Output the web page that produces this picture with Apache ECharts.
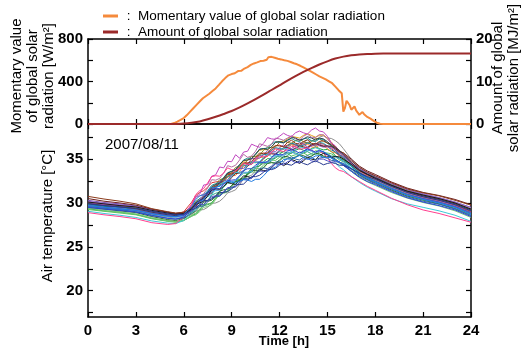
<!DOCTYPE html>
<html>
<head>
<meta charset="utf-8">
<script src="https://cdn.jsdelivr.net/npm/echarts@6/dist/echarts.min.js"></script>
<style>
  html, body { margin: 0; padding: 0; background: #fff; }
  #chart { width: 521px; height: 349px; }
</style>
</head>
<body>
<div id="chart"></div>
<script>
// Global solar radiation, 2007/08/11: momentary value [W/m2] as [hour, value]
const momentary = [
  [0,0],[5.0,0],[5.1,0],[5.2,1],[5.3,4],[5.4,9],[5.5,15],[5.6,22],[5.7,30],[5.8,38],[5.9,46],
  [6.0,56],[6.1,70],[6.2,84],[6.3,100],[6.4,116],[6.5,132],[6.6,148],[6.7,163],[6.8,180],[6.9,196],
  [7.0,212],[7.1,226],[7.2,242],[7.3,250],[7.4,264],[7.5,275],[7.6,285],[7.7,296],[7.8,310],[7.9,322],
  [8.0,335],[8.1,350],[8.2,368],[8.3,385],[8.4,402],[8.5,418],[8.6,432],[8.7,448],[8.8,458],[8.9,468],
  [9.0,470],[9.1,482],[9.2,478],[9.3,492],[9.4,498],[9.5,506],[9.6,500],[9.7,516],[9.8,522],[9.9,530],
  [10.0,536],[10.1,548],[10.2,556],[10.3,560],[10.4,570],[10.5,566],[10.6,580],[10.7,588],[10.8,592],[10.9,600],
  [11.0,596],[11.1,612],[11.2,605],[11.3,628],[11.4,610],[11.5,632],[11.6,618],[11.7,624],[11.8,620],[11.9,614],
  [12.0,612],[12.1,608],[12.2,604],[12.3,600],[12.4,602],[12.5,594],[12.6,590],[12.7,584],[12.8,580],[12.9,572],
  [13.0,568],[13.1,562],[13.2,556],[13.3,548],[13.4,540],[13.5,532],[13.6,524],[13.7,516],[13.8,508],[13.9,500],
  [14.0,492],[14.1,484],[14.2,474],[14.3,466],[14.4,458],[14.5,448],[14.6,442],[14.7,434],[14.8,426],[14.9,420],
  [15.0,412],[15.1,402],[15.2,396],[15.3,384],[15.4,370],[15.5,352],[15.6,336],[15.7,318],[15.8,300],[15.9,290],
  [16.0,116],[16.1,150],[16.2,218],[16.3,198],[16.4,176],[16.5,134],[16.6,150],[16.7,165],[16.8,128],[16.9,108],
  [17.0,86],[17.1,104],[17.2,112],[17.3,92],[17.4,76],[17.5,66],[17.6,58],[17.7,50],[17.8,40],[17.9,30],
  [18.0,20],[18.1,12],[18.2,6],[18.3,2],[18.4,0],[18.5,0],[24,0]
];

// Accumulated global solar radiation [MJ/m2] as [hour, value]
const amount = [
  [0,0],[5,0],[5.5,0.02],[6,0.1],[6.5,0.3],[7,0.6],[7.5,1.1],[8,1.7],[8.5,2.35],[9,3.05],
  [9.5,3.9],[10,4.85],[10.5,5.85],[11,6.9],[11.5,8.0],[12,9.1],[12.5,10.2],[13,11.25],[13.5,12.25],
  [14,13.15],[14.5,14.0],[15,14.75],[15.5,15.4],[16,15.85],[16.5,16.15],[17,16.35],[17.5,16.48],
  [18,16.55],[18.5,16.57],[24,16.57]
];

// Air temperature [°C] per sensor: half-hourly records (tempHours) and
// the extra quarter-hour records taken during the day (midHours)
const tempHours = [0,1,2,3,4,5,5.5,6,6.5,7,7.5,8,8.5,9,9.5,10,10.5,11,11.5,12,12.5,13,13.5,14,14.5,15,15.5,16,16.5,17,17.5,18,19,20,21,22,23,24];
const midHours = [6.75,7.25,7.75,8.25,8.75,9.25,9.75,10.25,10.75,11.25,11.75,12.25,12.75,13.25,13.75,14.25,14.75,15.25,15.75];

const sensor01 = [30.75,30.45,30.2,29.9,29.35,29.0,28.85,28.95,29.5,30.2,31.1,31.9,32.6,33.3,34.0,34.5,35.2,35.6,36.2,36.5,36.9,36.8,37.0,36.8,37.0,36.8,36.4,35.7,34.8,34.05,33.5,33.1,32.3,31.6,31.15,30.8,30.3,29.75];
const sensor01m = [30.05,30.45,31.7,32.15,33.25,33.45,34.55,34.75,35.7,35.7,36.55,36.4,37.15,36.7,37.2,36.7,37.1,36.7,35.95];
const sensor02 = [28.9,28.65,28.45,28.2,27.75,27.55,27.65,28.4,29.9,31.4,32.3,33.1,33.4,33.8,34.0,34.4,35.0,35.3,35.8,36.0,36.1,36.4,36.2,36.0,35.9,35.2,34.0,33.6,33.0,32.45,31.9,31.45,30.55,29.8,29.2,28.8,28.3,27.8];
const sensor02m = [30.95,31.65,33.0,33.05,34.0,33.7,34.5,34.4,35.35,35.35,36.2,35.85,36.45,36.1,36.3,35.75,35.65,34.5,33.7];
const sensor03 = [29.05,28.8,28.6,28.35,27.95,27.7,27.65,28.0,28.9,29.9,30.7,31.6,32.3,33.0,33.4,34.3,34.6,35.2,35.3,35.9,36.2,36.1,36.3,36.1,36.1,35.6,34.6,33.8,33.0,32.35,31.8,31.35,30.5,29.9,29.5,29.1,28.6,27.9];
const sensor03m = [29.2,30.5,30.95,32.15,32.55,33.5,33.65,34.65,34.7,35.55,35.4,36.25,35.85,36.4,35.9,36.3,35.65,35.2,34.1];
const sensor04 = [30.0,29.8,29.6,29.35,28.95,28.7,28.55,28.8,29.8,31.0,32.1,33.2,34.0,34.7,35.1,35.9,36.5,36.8,37.3,37.6,37.7,38.0,38.0,38.3,38.2,37.6,36.5,35.5,34.5,33.8,33.25,32.8,32.0,31.3,30.8,30.4,29.85,29.2];
const sensor04m = [30.7,32.05,33.05,34.1,34.75,35.5,35.8,36.7,36.35,37.45,37.25,37.95,37.55,38.2,37.85,38.55,38.1,36.85,35.9];
const sensor05 = [29.7,29.5,29.3,29.15,28.75,28.5,28.45,28.7,29.6,30.8,31.3,31.8,32.2,32.4,32.5,32.6,32.7,33.1,33.9,34.5,35.0,35.2,35.2,35.1,35.4,35.2,34.9,34.5,33.9,33.3,32.8,32.4,31.65,30.9,30.4,30.0,29.5,28.7];
const sensor05m = [30.4,30.95,31.75,31.9,32.5,32.25,32.65,32.45,32.7,33.6,34.1,34.95,35.0,35.4,34.95,35.35,35.2,35.15,34.6];
const sensor06 = [29.9,29.7,29.55,29.4,29.05,28.75,28.65,28.7,29.2,29.8,30.3,30.8,31.2,31.6,32.1,32.6,33.0,33.5,33.8,34.3,34.4,34.6,34.5,34.6,34.6,34.5,34.5,34.3,33.9,33.4,33.0,32.7,31.9,31.2,30.7,30.3,29.8,29.1];
const sensor06m = [29.4,30.25,30.45,31.2,31.3,32.05,32.15,33.0,33.15,33.85,33.95,34.55,34.3,34.75,34.35,34.8,34.35,34.6,34.3];
const sensor07 = [30.1,29.9,29.7,29.55,29.15,28.85,28.7,28.8,29.3,30.0,30.8,31.6,31.9,32.2,32.6,33.0,33.3,33.7,34.0,34.6,34.5,34.8,34.8,35.0,35.4,35.5,35.3,35.0,34.4,33.7,33.25,32.8,32.0,31.35,30.9,30.5,30.0,29.3];
const sensor07m = [29.85,30.2,31.5,31.55,32.35,32.1,33.1,32.85,33.8,33.65,34.5,34.25,34.95,34.5,35.2,34.9,35.65,35.2,35.25];
const sensor08 = [29.6,29.4,29.2,29.05,28.65,28.4,28.25,28.3,28.7,29.2,29.5,30.0,30.6,31.3,32.1,33.0,33.7,34.5,35.1,35.8,36.3,36.6,36.9,37.1,37.5,37.4,37.1,36.2,35.0,34.1,33.5,33.0,32.1,31.4,30.9,30.5,29.95,29.2];
const sensor08m = [29.05,29.25,29.95,30.2,31.15,31.5,32.75,33.15,34.3,34.6,35.65,35.85,36.65,36.55,37.2,37.1,37.65,37.35,36.75];
const sensor09 = [29.9,29.7,29.5,29.35,28.95,28.65,28.55,28.6,29.2,30.2,31.1,32.0,32.7,33.4,34.2,34.9,35.5,36.1,36.4,37.0,37.3,37.5,37.7,37.7,37.7,37.4,36.3,35.4,34.5,33.7,33.15,32.7,31.9,31.2,30.7,30.3,29.8,29.0];
const sensor09m = [29.8,30.45,31.75,32.15,33.25,33.6,34.75,35.0,36.0,36.05,36.9,36.95,37.6,37.4,37.9,37.5,37.75,36.95,35.75];
const sensor10 = [29.35,29.1,28.95,28.7,28.25,27.95,27.85,28.0,28.5,29.2,29.8,30.6,31.2,31.9,32.7,33.4,34.1,34.7,35.0,35.6,35.7,36.0,36.0,36.2,36.2,36.1,35.4,34.9,34.2,33.4,32.9,32.5,31.8,31.1,30.5,30.1,29.6,28.9];
const sensor10m = [28.75,29.7,30.0,31.1,31.35,32.5,32.85,33.95,34.2,35.05,35.1,35.85,35.65,36.2,35.9,36.4,36.05,35.85,35.05];
const sensor11 = [29.8,29.6,29.45,29.3,28.9,28.6,28.5,28.6,29.4,30.5,31.4,32.2,32.9,33.6,34.3,35.1,35.5,36.2,36.7,36.9,37.2,37.1,37.3,37.1,37.3,36.8,36.0,35.2,34.3,33.5,33.0,32.6,31.8,31.05,30.5,30.1,29.6,28.9];
const sensor11m = [30.15,30.75,32.0,32.35,33.45,33.75,34.9,35.1,36.15,36.25,37.0,36.85,37.35,37.0,37.4,37.0,37.25,36.5,35.5];
const sensor12 = [30.3,30.05,29.9,29.65,29.25,28.95,28.8,28.9,29.5,30.3,31.1,31.9,32.5,33.2,33.9,34.4,35.1,35.5,35.8,36.3,36.3,36.5,36.7,36.5,36.7,36.5,36.0,35.3,34.6,33.9,33.4,32.95,32.2,31.5,31.0,30.6,30.1,29.5];
const sensor12m = [29.8,30.9,31.3,32.4,32.65,33.85,33.95,35.05,35.1,35.95,35.85,36.6,36.2,36.9,36.4,36.8,36.5,36.35,35.55];
const sensor13 = [30.1,29.9,29.75,29.5,29.1,28.75,28.65,29.0,30.1,31.2,31.8,32.4,32.9,33.4,34.1,34.6,35.0,35.7,36.0,36.6,36.6,36.6,36.8,36.6,36.8,36.4,35.8,35.1,34.4,33.65,33.2,32.8,32.0,31.2,30.7,30.3,29.75,29.0];
const sensor13m = [30.85,31.4,32.3,32.45,33.35,33.55,34.55,34.6,35.55,35.65,36.5,36.4,36.8,36.5,36.9,36.5,36.7,36.2,35.35];
const sensor14 = [29.5,29.3,29.1,28.9,28.45,28.1,28.0,28.2,28.8,29.6,30.2,30.8,31.5,32.0,32.5,33.3,33.7,34.0,34.6,34.9,35.3,35.2,35.4,35.3,35.6,35.3,35.0,34.5,33.9,33.2,32.7,32.3,31.5,30.8,30.35,29.9,29.4,28.7];
const sensor14m = [29.1,30.1,30.3,31.35,31.55,32.45,32.7,33.7,33.65,34.5,34.55,35.3,35.05,35.5,35.15,35.65,35.35,35.25,34.65];
const sensor15 = [29.7,29.5,29.4,29.15,28.75,28.45,28.35,28.5,29.3,30.2,30.8,31.4,31.9,32.4,33.1,33.5,34.1,34.7,34.9,35.4,35.7,35.6,35.8,35.9,35.9,35.6,35.2,34.7,34.0,33.3,32.8,32.35,31.6,30.9,30.4,30.0,29.45,28.7];
const sensor15m = [29.95,30.3,31.3,31.45,32.35,32.55,33.5,33.6,34.6,34.6,35.35,35.35,35.85,35.5,36.05,35.7,35.85,35.3,35.05];
const sensor16 = [30.0,29.8,29.65,29.45,29.05,28.75,28.65,28.7,29.3,30.3,31.2,32.1,32.8,33.5,34.2,34.9,35.3,36.0,36.3,36.9,36.9,37.1,37.0,37.0,37.3,36.9,36.1,35.5,34.6,33.8,33.3,32.9,32.1,31.4,30.9,30.5,30.0,29.3];
const sensor16m = [29.6,30.95,31.45,32.65,32.95,34.05,34.35,35.3,35.45,36.35,36.4,37.1,36.8,37.25,36.8,37.35,37.0,36.6,35.7];
const sensor17 = [29.8,29.55,29.4,29.25,28.85,28.55,28.45,28.6,29.4,30.5,31.3,31.9,32.4,33.1,33.6,34.4,34.8,35.2,35.8,36.1,36.5,36.4,36.6,36.4,36.6,36.2,35.7,35.0,34.3,33.6,33.1,32.7,31.9,31.2,30.6,30.2,29.7,29.0];
const sensor17m = [30.15,30.7,31.8,31.95,32.95,33.15,34.2,34.4,35.2,35.3,36.15,36.1,36.65,36.3,36.7,36.3,36.5,35.85,35.45];
const sensor18 = [30.2,29.95,29.8,29.6,29.15,28.85,28.75,28.9,29.5,30.4,31.0,31.8,32.3,33.0,33.5,34.3,34.7,35.1,35.7,36.0,36.0,36.3,36.3,36.5,36.5,36.4,36.1,35.6,34.8,34.0,33.5,33.1,32.3,31.6,31.05,30.6,30.1,29.45];
const sensor18m = [29.85,30.9,31.2,32.25,32.45,33.45,33.7,34.7,34.7,35.6,35.65,36.2,35.95,36.5,36.2,36.7,36.35,36.35,35.75];
const sensor19 = [29.6,29.4,29.25,29.0,28.6,28.25,28.15,28.3,28.9,29.6,30.1,30.7,31.2,31.7,32.4,32.8,33.4,34.0,34.2,34.7,35.1,35.0,35.2,35.2,35.1,35.1,34.8,34.3,33.7,33.05,32.6,32.2,31.4,30.7,30.2,29.85,29.3,28.55];
const sensor19m = [29.35,29.65,30.6,30.75,31.65,31.85,32.8,32.9,33.9,33.9,34.65,34.7,35.25,34.9,35.4,34.95,35.2,34.85,34.65];
const sensor20 = [29.25,29.05,28.85,28.65,28.2,27.9,27.8,28.0,28.6,29.3,29.9,30.5,31.2,31.9,32.6,33.3,33.9,34.3,34.9,35.2,35.6,35.5,35.7,35.6,35.9,35.7,35.3,34.7,33.9,33.2,32.7,32.3,31.5,30.8,30.3,29.9,29.35,28.6];
const sensor20m = [28.85,29.8,30.0,31.05,31.35,32.45,32.75,33.8,33.9,34.8,34.85,35.6,35.35,35.8,35.45,35.95,35.7,35.6,34.9];
const sensor21 = [29.9,29.7,29.55,29.3,28.9,28.6,28.5,28.6,29.3,30.3,31.1,31.8,32.5,33.2,33.9,34.3,34.9,35.5,36.0,36.2,36.5,36.7,36.6,36.7,36.9,36.5,35.8,35.0,34.2,33.4,32.9,32.5,31.7,31.0,30.5,30.1,29.55,28.8];
const sensor21m = [30.0,30.5,31.65,31.95,33.05,33.35,34.3,34.4,35.4,35.55,36.3,36.15,36.8,36.45,36.85,36.6,36.8,36.05,35.5];
const sensor22 = [30.5,30.2,30.0,29.75,29.3,28.95,28.8,28.9,29.4,30.1,30.9,31.7,32.2,32.9,33.4,34.2,34.6,35.0,35.6,35.9,36.3,36.2,36.4,36.6,36.6,36.5,36.2,35.7,35.0,34.2,33.65,33.25,32.4,31.7,31.2,30.85,30.4,29.8];
const sensor22m = [29.65,30.7,31.1,32.15,32.35,33.35,33.6,34.6,34.6,35.5,35.55,36.3,36.05,36.5,36.3,36.8,36.45,36.45,35.85];
const sensor23 = [29.5,29.3,29.15,28.95,28.55,28.25,28.15,28.4,29.2,30.2,31.1,31.6,32.1,32.6,33.1,33.9,34.3,34.6,35.2,35.5,35.9,35.9,35.9,36.0,36.0,35.5,34.9,34.3,33.6,32.95,32.45,32.1,31.3,30.6,30.1,29.7,29.2,28.45];
const sensor23m = [29.8,30.45,31.55,31.65,32.55,32.65,33.7,33.9,34.65,34.7,35.55,35.5,36.1,35.7,36.15,35.8,35.85,35.1,34.7];
const sensor24 = [29.8,29.6,29.5,29.3,28.9,28.55,28.45,28.5,29.0,29.7,30.3,31.1,31.8,32.3,33.0,33.4,34.0,34.6,34.8,35.3,35.4,35.7,35.7,35.6,35.8,35.6,35.3,34.8,34.2,33.5,33.05,32.6,31.8,31.1,30.6,30.2,29.65,28.9];
const sensor24m = [29.55,29.8,30.9,31.25,32.25,32.45,33.4,33.5,34.5,34.5,35.25,35.15,35.75,35.5,35.85,35.5,35.8,35.35,35.15];
const sensor25 = [30.0,29.75,29.6,29.35,28.95,28.65,28.55,28.8,29.7,30.8,31.7,32.6,33.4,34.1,34.9,35.2,35.9,36.6,36.7,37.3,37.4,37.3,37.6,37.5,37.8,37.3,36.4,35.4,34.4,33.6,33.05,32.6,31.8,31.1,30.6,30.2,29.65,28.9];
const sensor25m = [30.65,31.05,32.65,32.8,34.25,34.3,35.55,35.35,36.75,36.45,37.4,37.15,37.65,37.15,37.85,37.45,37.75,36.75,35.8];
const sensor26 = [29.95,29.7,29.55,29.35,28.95,28.65,28.55,28.65,29.3,30.3,31.2,32.1,32.8,33.6,34.4,34.9,35.6,36.2,36.4,37.0,37.1,37.4,37.3,37.4,37.4,37.0,36.3,35.5,34.6,33.8,33.3,32.9,32.05,31.3,30.8,30.4,29.9,29.2];
const sensor26m = [30.0,30.55,31.85,32.25,33.4,33.8,34.85,35.05,36.1,36.1,36.9,36.85,37.45,37.15,37.55,37.2,37.3,36.55,36.0];
const sensor27 = [29.7,29.5,29.35,29.15,28.8,28.55,28.45,28.6,29.1,29.8,30.3,30.8,31.3,31.8,32.3,32.7,33.3,33.6,34.1,34.4,34.7,34.6,35.0,34.8,35.0,34.8,34.7,34.4,33.9,33.3,32.8,32.4,31.6,30.95,30.5,30.1,29.6,28.9];
const sensor27m = [29.55,29.85,30.75,30.85,31.75,31.85,32.7,32.8,33.65,33.65,34.45,34.35,34.85,34.6,35.1,34.7,35.0,34.65,34.65];
const sensor28 = [29.4,29.15,28.95,28.75,28.3,27.95,27.85,28.0,28.5,29.0,29.6,30.4,31.1,31.8,32.5,33.2,33.5,34.1,34.6,34.8,35.1,35.3,35.2,35.4,35.5,35.3,34.9,34.3,33.6,32.9,32.4,32.0,31.2,30.55,30.05,29.65,29.1,28.35];
const sensor28m = [28.65,29.5,29.8,30.95,31.25,32.35,32.65,33.55,33.6,34.55,34.5,35.15,35.0,35.45,35.1,35.65,35.3,35.2,34.5];

// Drawing order (first drawn lies underneath) and colour of each sensor line
const sensorSeries = [
  [sensor08, sensor08m], [sensor10, sensor10m], [sensor20, sensor20m], [sensor28, sensor28m],
  [sensor24, sensor24m], [sensor14, sensor14m], [sensor17, sensor17m], [sensor09, sensor09m],
  [sensor13, sensor13m], [sensor16, sensor16m], [sensor11, sensor11m], [sensor21, sensor21m],
  [sensor25, sensor25m], [sensor04, sensor04m], [sensor12, sensor12m], [sensor18, sensor18m],
  [sensor22, sensor22m], [sensor01, sensor01m], [sensor03, sensor03m], [sensor02, sensor02m],
  [sensor15, sensor15m], [sensor26, sensor26m], [sensor07, sensor07m], [sensor19, sensor19m],
  [sensor23, sensor23m], [sensor27, sensor27m], [sensor05, sensor05m], [sensor06, sensor06m]
];
const sensorColors = [
  '#8f8f8f', '#1fa33f', '#5cc45c', '#75c675', '#2ea383', '#2e6e2e', '#f0822e', '#e4a417', '#d93636', '#85851f',
  '#129090', '#0f8ca3', '#b56ea3', '#c046c0', '#7a52b5', '#9569d2', '#6f1f1f', '#8b3a1a', '#3ec9d6', '#ff3f8f',
  '#4ba3e3', '#2f3f4f', '#1a1a1a', '#3366a3', '#2946d4', '#4f4fc6', '#1f7ae0', '#27398f'
];

// Axis tick positions
const hourTicks = 3;
const radiationTicks = [0, 200, 400, 600, 800];
const radiationLabels = [0, 400, 800];
const amountTicks = [0, 5, 10, 15, 20];
const amountLabels = [0, 10, 20];
const tempTicks = [17.5, 20, 22.5, 25, 27.5, 30, 32.5, 35, 37.5];
const tempLabels = [20, 25, 30, 35];

const FONT = 'Liberation Sans, Arial, Helvetica, sans-serif';
const axisLine = { show: true, onZero: false, lineStyle: { color: '#000', width: 1.5 } };
const tickStyle = { color: '#000', width: 1.2 };

function hourAxis(gridIndex, position, showLabels) {
  return {
    type: 'value', gridIndex, position, min: 0, max: 24, interval: hourTicks,
    axisLine, splitLine: { show: false },
    axisTick: { show: true, inside: true, length: 5, lineStyle: tickStyle },
    axisLabel: {
      show: showLabels, color: '#000', fontFamily: FONT, fontSize: 15, fontWeight: 'bold', margin: 6
    }
  };
}

function valueAxis(gridIndex, position, min, max, ticks, labels, showLabels) {
  return {
    type: 'value', gridIndex, position, min, max,
    axisLine, splitLine: { show: false },
    axisTick: { show: true, inside: true, length: 5, lineStyle: tickStyle, customValues: ticks },
    axisLabel: {
      show: showLabels, customValues: labels, color: '#000', fontFamily: FONT,
      fontSize: 15, fontWeight: 'bold', margin: 5
    }
  };
}

const series = [
  {
    name: 'Momentary value of global solar radiation', type: 'line',
    xAxisIndex: 0, yAxisIndex: 0, data: momentary, showSymbol: false, clip: false,
    lineStyle: { color: '#f58a3c', width: 2 }, itemStyle: { color: '#f58a3c' }, z: 3
  },
  {
    name: 'Amount of global solar radiation', type: 'line', smooth: 0.3,
    xAxisIndex: 0, yAxisIndex: 1, data: amount, showSymbol: false, clip: false,
    lineStyle: { color: '#9b2a2a', width: 2 }, itemStyle: { color: '#9b2a2a' }, z: 4
  }
];

sensorSeries.forEach(([halfHourly, quarter], i) => {
  const points = tempHours.map((h, k) => [h, halfHourly[k]])
    .concat(midHours.map((h, k) => [h, quarter[k]]))
    .sort((a, b) => a[0] - b[0]);
  series.push({
    type: 'line', xAxisIndex: 3, yAxisIndex: 2, showSymbol: false, silent: true,
    data: points, lineStyle: { color: sensorColors[i], width: 1 }
  });
});

const chart = echarts.init(document.getElementById('chart'), null, { renderer: 'canvas' });
chart.setOption({
  animation: false,
  backgroundColor: '#fff',
  textStyle: { fontFamily: FONT },
  grid: [
    { left: 88, right: 50, top: 39, height: 85 },
    { left: 88, right: 50, top: 124, height: 193 }
  ],
  legend: {
    data: ['Momentary value of global solar radiation', 'Amount of global solar radiation'],
    left: 98, top: 4, orient: 'vertical', itemGap: 2,
    icon: 'rect', itemWidth: 15, itemHeight: 3,
    formatter: name => ' :  ' + name,
    textStyle: { color: '#000', fontFamily: FONT, fontSize: 13.5 }
  },
  xAxis: [
    hourAxis(0, 'bottom', false),
    hourAxis(0, 'top', false),
    hourAxis(1, 'top', false),
    hourAxis(1, 'bottom', true)
  ],
  yAxis: [
    valueAxis(0, 'left', 0, 800, radiationTicks, radiationLabels, true),
    valueAxis(0, 'right', 0, 20, amountTicks, amountLabels, true),
    valueAxis(1, 'left', 17, 39, tempTicks, tempLabels, true),
    valueAxis(1, 'right', 17, 39, tempTicks, [], false)
  ],
  graphic: [
    {
      type: 'text', x: 33, y: 76, rotation: Math.PI / 2,
      style: {
        text: 'Momentary value\nof global solar\nradiation [W/m²]', fill: '#000',
        font: '15px ' + FONT, align: 'center', verticalAlign: 'middle', lineHeight: 16
      }
    },
    {
      type: 'text', x: 506, y: 78, rotation: Math.PI / 2,
      style: {
        text: 'Amount of global\nsolar radiation [MJ/m²]', fill: '#000',
        font: '15px ' + FONT, align: 'center', verticalAlign: 'middle', lineHeight: 16
      }
    },
    {
      type: 'text', x: 48, y: 216, rotation: Math.PI / 2,
      style: {
        text: 'Air temperature [°C]', fill: '#000',
        font: '15px ' + FONT, align: 'center', verticalAlign: 'middle'
      }
    },
    {
      type: 'text', x: 284, y: 341,
      style: {
        text: 'Time [h]', fill: '#000',
        font: 'bold 13px ' + FONT, align: 'center', verticalAlign: 'middle'
      }
    },
    {
      type: 'text', x: 105, y: 145,
      style: {
        text: '2007/08/11', fill: '#000',
        font: '15px ' + FONT, align: 'left', verticalAlign: 'middle'
      }
    }
  ],
  series
});
</script>
</body>
</html>
